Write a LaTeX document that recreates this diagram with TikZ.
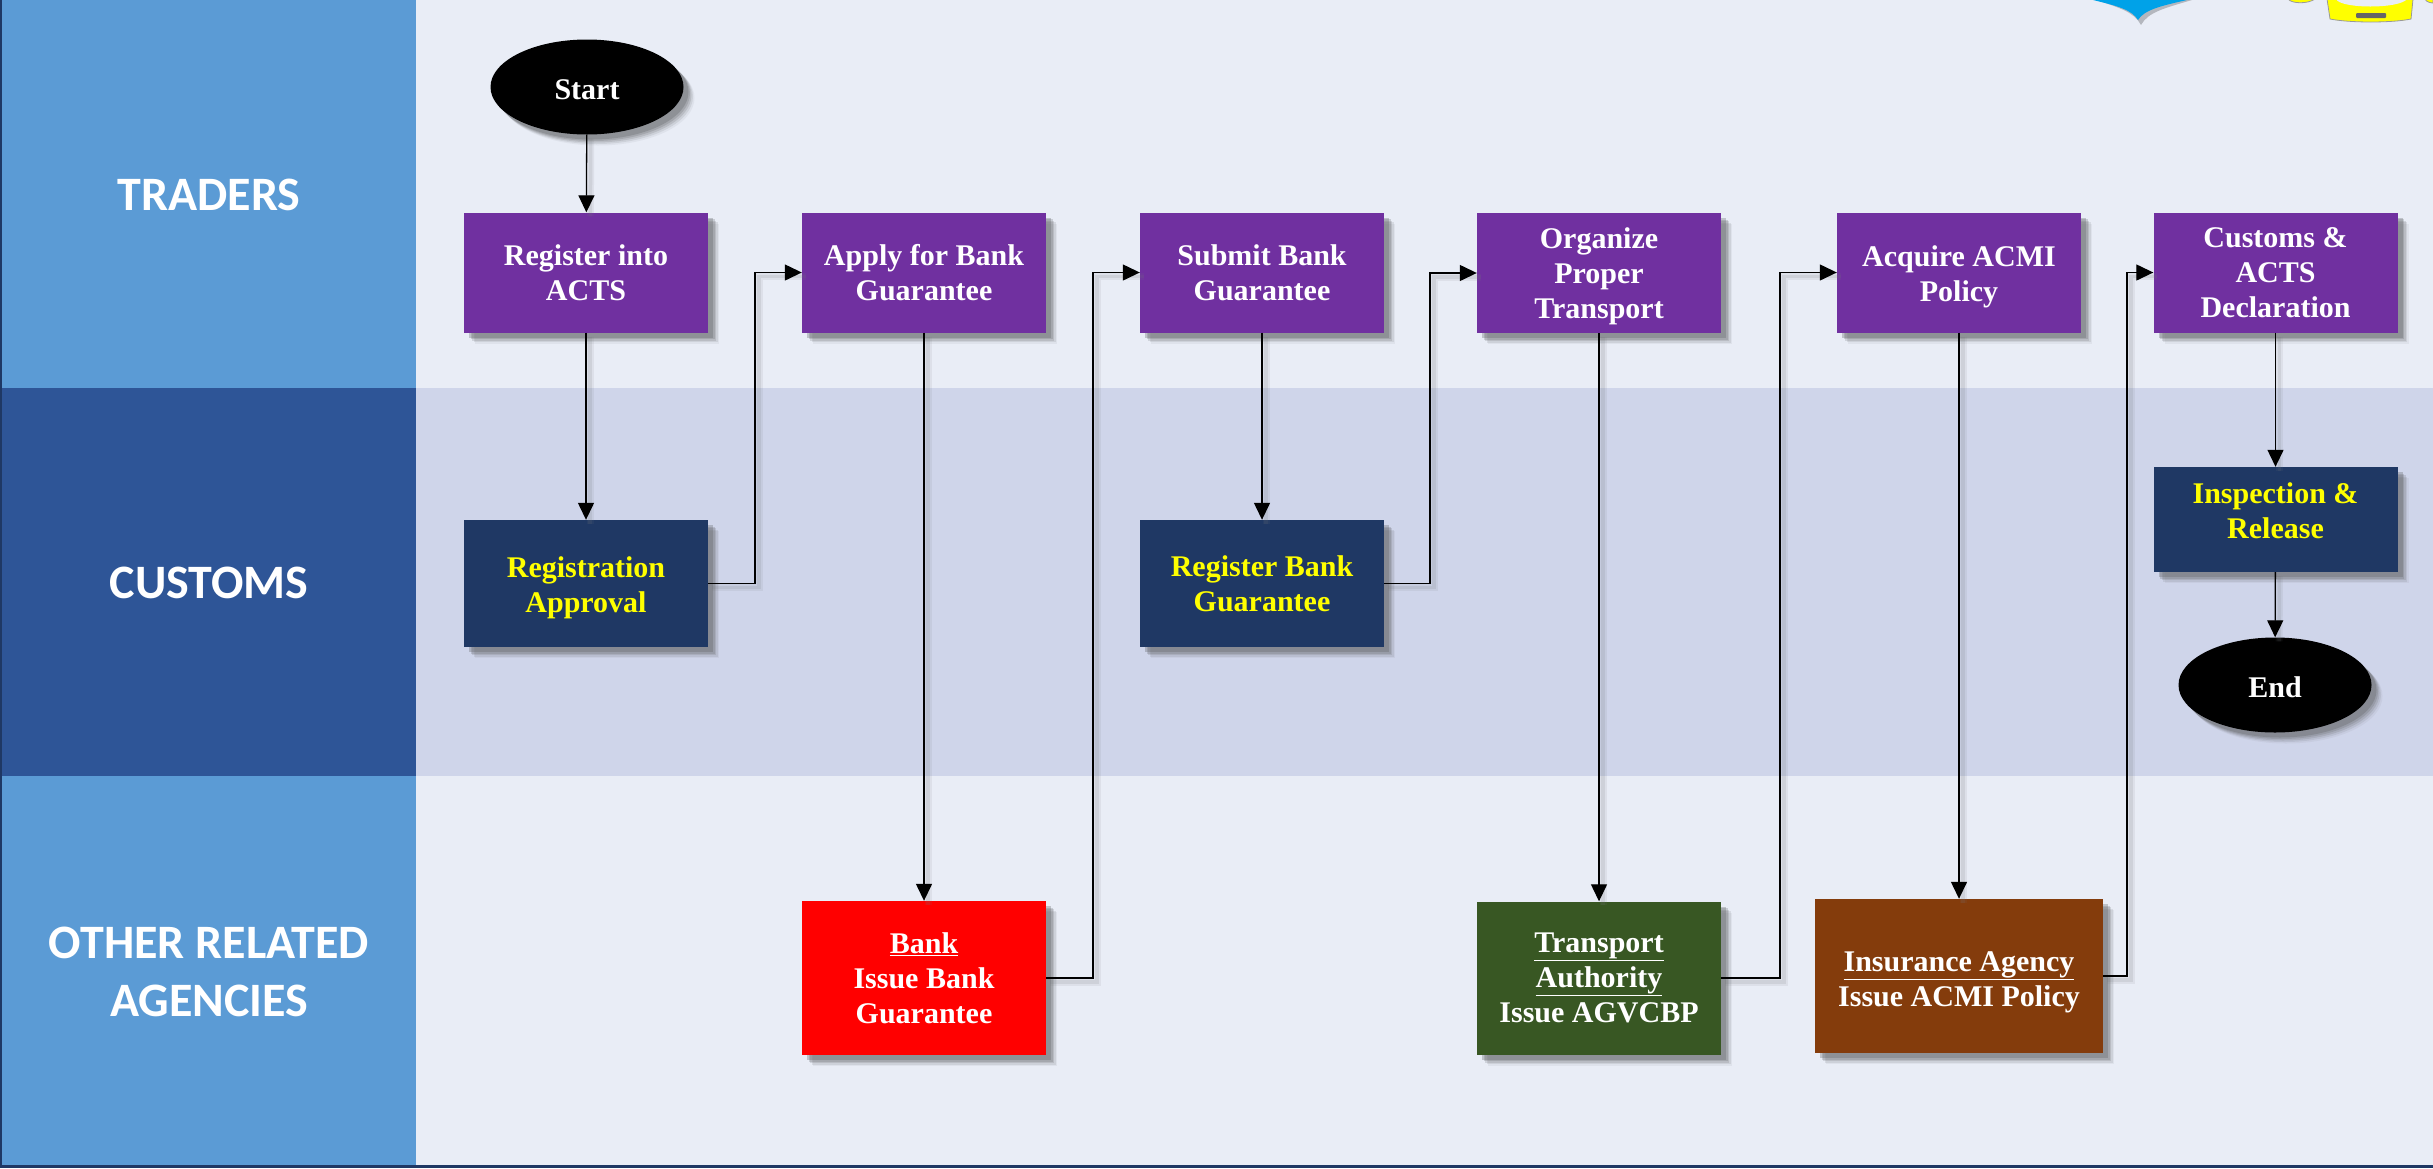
\documentclass[tikz,border=0pt]{standalone}
\usepackage{fontspec}
\setmainfont{Liberation Serif}
\newfontfamily\lanefont{Carlito}
\usetikzlibrary{arrows.meta,shapes.geometric,shadows,calc}
\definecolor{bgc}{HTML}{E9EDF6}
\definecolor{midc}{HTML}{CFD5EA}
\definecolor{lightlane}{HTML}{5B9BD5}
\definecolor{darklane}{HTML}{2E5597}
\definecolor{navy}{HTML}{1F3864}
\definecolor{purp}{HTML}{7030A0}
\definecolor{grn}{HTML}{385723}
\definecolor{brn}{HTML}{843C0C}
\definecolor{yel}{HTML}{FFFF00}
\definecolor{shieldc}{HTML}{00A2E8}
\newcommand{\hgt}[1]{\rule{0pt}{#1pt}}
\newcommand{\dep}[1]{\rule[-#1pt]{0pt}{1pt}}
\tikzset{
  softshadow/.style={
    general shadow={shadow xshift=11pt,shadow yshift=-11pt,fill=black!55!bgc,opacity=.08},
    general shadow={shadow xshift=9.5pt,shadow yshift=-9.5pt,fill=black!55!bgc,opacity=.14},
    general shadow={shadow xshift=8pt,shadow yshift=-8pt,fill=black!55!bgc,opacity=.2},
    general shadow={shadow xshift=6.5pt,shadow yshift=-6.5pt,fill=black!55!bgc,opacity=.25},
    general shadow={shadow xshift=5pt,shadow yshift=-5pt,fill=black!60!bgc,opacity=.3}},
  box/.style={rectangle,softshadow,inner sep=0pt,align=center,text=white,
    font=\fontsize{30}{35}\selectfont\bfseries},
  tbox/.style={box,fill=purp,minimum width=244pt,minimum height=120pt},
  cbox/.style={box,fill=navy,text=yel,minimum width=244pt},
  oval/.style={ellipse,softshadow,fill=black,inner sep=0pt,text=white,minimum width=193pt,minimum height=95pt,
    font=\fontsize{30}{35}\selectfont\bfseries},
  lanelabel/.style={text=white,align=center,font=\fontsize{48}{58}\selectfont\lanefont\bfseries},
  conn/.style={draw=black,line width=1.3pt,-{Triangle[length=17pt,width=16pt]},
    preaction={draw=black!50!bgc,opacity=.10,line width=7pt,-,transform canvas={shift={(4pt,-4pt)}}},
    preaction={draw=black!50!bgc,opacity=.14,line width=3.5pt,-,transform canvas={shift={(4pt,-4pt)}}}},
}
\begin{document}
\begin{tikzpicture}[x=1pt,y=-1pt]
\useasboundingbox (0,0) rectangle (2433,1168);
% lanes
\fill[bgc] (0,0) rectangle (2433,1168);
\fill[midc] (416,388) rectangle (2433,776);
\fill[lightlane] (0,0) rectangle (416,388);
\fill[darklane] (0,388) rectangle (416,776);
\fill[lightlane] (0,776) rectangle (416,1168);
\fill[navy] (0,0) rectangle (2,1168);
\fill[navy] (0,1165) rectangle (2433,1168);
\node[lanelabel] (l1) at (209,195) {TRADERS};
\node[lanelabel] (l2) at (209,583) {CUSTOMS};
\node[lanelabel] (l3) at (209,972) {OTHER RELATED\\AGENCIES};
% logos at the top edge
\fill[black!45!bgc,opacity=.5] (2096,0) .. controls (2120,8) and (2134,12) .. (2141,25) .. controls (2148,12) and (2165,8) .. (2192,0) -- cycle;
\fill[shieldc] (2093,0) .. controls (2118,6) and (2132,10) .. (2138,20) .. controls (2144,10) and (2160,6) .. (2187,0) -- cycle;
\fill[yel,draw=black!40,line width=.8pt] (2288,-1) .. controls (2292,4) and (2308,4) .. (2315,-1) -- cycle;
\fill[yel,draw=black!40,line width=.8pt] (2327,-1) -- (2330,19) .. controls (2350,23) and (2392,23) .. (2411,19) -- (2413,-1) -- cycle;
\fill[bgc] (2336,-1) .. controls (2340,9) and (2400,9) .. (2407,-1) -- cycle;
\fill[black!60,rounded corners=1pt] (2356,13) rectangle (2386,18);
\fill[yel,draw=black!40,line width=.8pt] (2425,-1) .. controls (2426,2) and (2431,3) .. (2433,3) -- (2433,-1) -- cycle;
% nodes
\node[oval] (start) at (587,87) {\hgt{26}Start};
\node[tbox] (reg) at (586,272.5) {Register into\\ACTS};
\node[tbox] (apply) at (924,272.5) {Apply for Bank\\Guarantee};
\node[tbox] (submit) at (1262,272.5) {Submit Bank\\Guarantee};
\node[tbox] (organize) at (1599,273) {\hgt{28}Organize\\Proper\\Transport};
\node[tbox] (acquire) at (1959,272.5) {\hgt{30}Acquire ACMI\\Policy};
\node[tbox] (customs) at (2275.5,272.5) {Customs \&\\ACTS\\Declaration};
\node[cbox,minimum height=127pt] (approval) at (586,583.5) {\hgt{30}Registration\\Approval};
\node[cbox,minimum height=127pt] (regbank) at (1262,583.5) {Register Bank\\Guarantee};
\node[cbox,minimum height=105pt] (inspect) at (2275.5,519.5) {Inspection \&\\Release\dep{18}};
\node[oval] (end) at (2275,685) {\hgt{25}End};
\node[box,fill=red,minimum width=244pt,minimum height=154pt] (bank) at (924,978) {\underline{Bank}\\Issue Bank\\Guarantee};
\node[box,fill=grn,minimum width=244pt,minimum height=153pt] (transport) at (1599,978) {\underline{Transport}\\\underline{Authority}\\Issue AGVCBP};
\node[box,fill=brn,minimum width=288pt,minimum height=154pt] (insurance) at (1959,976) {\hgt{32}\underline{Insurance Agency}\\Issue ACMI Policy};
% bend points
\coordinate (b1) at (755,272.5);
\coordinate (b2) at (1093,272.5);
\coordinate (b3) at (1430,273);
\coordinate (b4) at (1780,272.5);
\coordinate (b5) at (2127,272.5);
% connectors
\draw[conn] (start) -- (reg);
\draw[conn] (reg) -- (approval);
\draw[conn] (approval.east) -| (b1) -- (apply.west);
\draw[conn] (apply) -- (bank);
\draw[conn] (bank.east) -| (b2) -- (submit.west);
\draw[conn] (submit) -- (regbank);
\draw[conn] (regbank.east) -| (b3) -- (organize.west);
\draw[conn] (organize) -- (transport);
\draw[conn] (transport.east) -| (b4) -- (acquire.west);
\draw[conn] (acquire) -- (insurance);
\draw[conn] (insurance.east) -| (b5) -- (customs.west);
\draw[conn] (customs) -- (inspect);
\draw[conn] (inspect) -- (end);
\end{tikzpicture}
\end{document}
